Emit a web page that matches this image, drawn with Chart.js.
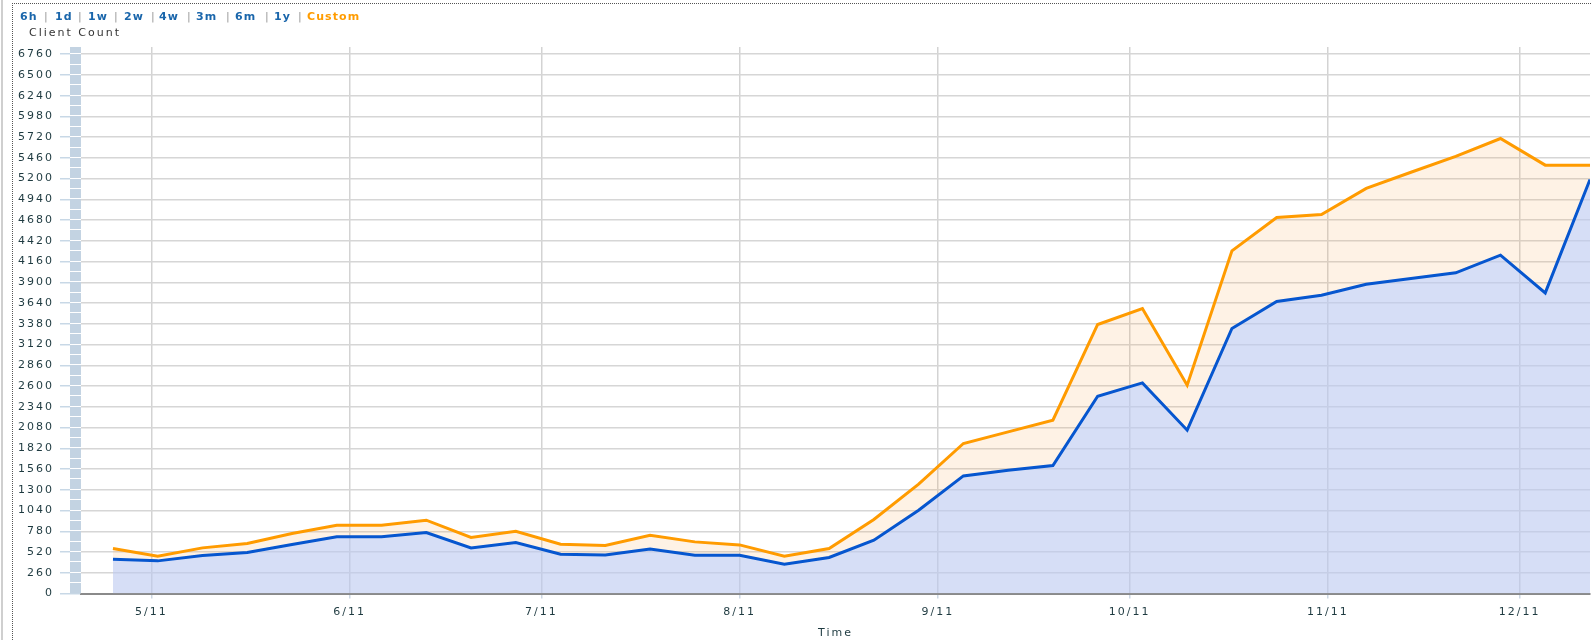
<!DOCTYPE html>
<html>
<head>
<meta charset="utf-8">
<script src="https://cdn.jsdelivr.net/npm/chart.js@4/dist/chart.umd.min.js"></script>
<style>
  body { margin: 0; background: #fff; }
  #wrap { position: relative; width: 1591px; height: 640px; overflow: hidden; }
  #frame { position: absolute; left: 12px; top: 3px; right: 0; bottom: 0;
           border-left: 1px dotted #555; border-top: 1px dotted #555; pointer-events: none; }
  #edge { position: absolute; left: 1px; top: 0; width: 2px; height: 640px; background: #cfcfcf; }
  .lnk { position: absolute; top: 10px; font: bold 11px "DejaVu Sans", sans-serif;
         letter-spacing: 1.1px; color: #1a66ab; line-height: 13px; white-space: nowrap; }
  .sep { position: absolute; top: 10px; font: 11px "DejaVu Sans", sans-serif; color: #9a9a9a; line-height: 13px; }
  #cc { position: absolute; left: 29px; top: 26px; font: 11px "DejaVu Sans", sans-serif;
        letter-spacing: 2px; color: #333; line-height: 13px; white-space: nowrap; }
  canvas { position: absolute; left: 0; top: 0; }
</style>
</head>
<body>
<div id="wrap">
  <canvas id="chart" width="1591" height="640"></canvas>
  <div id="edge"></div>
  <div id="frame"></div>
  <span class="lnk" style="left:20px">6h</span><span class="sep" style="left:44px">|</span>
  <span class="lnk" style="left:55px">1d</span><span class="sep" style="left:78px">|</span>
  <span class="lnk" style="left:88px">1w</span><span class="sep" style="left:114px">|</span>
  <span class="lnk" style="left:124px">2w</span><span class="sep" style="left:151px">|</span>
  <span class="lnk" style="left:159px">4w</span><span class="sep" style="left:187px">|</span>
  <span class="lnk" style="left:196px">3m</span><span class="sep" style="left:226px">|</span>
  <span class="lnk" style="left:235px">6m</span><span class="sep" style="left:265px">|</span>
  <span class="lnk" style="left:274px">1y</span><span class="sep" style="left:298px">|</span>
  <span class="lnk" style="left:307px;color:#ff9c00">Custom</span>
  <div id="cc">Client Count</div>
</div>
<script>
// weekly samples (2011)
const weeks = [
  "2011-04-25", "2011-05-02", "2011-05-09", "2011-05-16", "2011-05-23", "2011-05-30",
  "2011-06-06", "2011-06-13", "2011-06-20", "2011-06-27", "2011-07-04", "2011-07-11",
  "2011-07-18", "2011-07-25", "2011-08-01", "2011-08-08", "2011-08-15", "2011-08-22",
  "2011-08-29", "2011-09-05", "2011-09-12", "2011-09-19", "2011-09-26", "2011-10-03",
  "2011-10-10", "2011-10-17", "2011-10-24", "2011-10-31", "2011-11-07", "2011-11-14",
  "2011-11-21", "2011-11-28", "2011-12-05", "2011-12-12"
];
const blueCounts = [
  430, 409, 476, 514, 614, 710, 710, 764, 572, 639, 493, 484,
  559, 480, 480, 367, 451, 668, 1044, 1474, 1546, 1604, 2473, 2640,
  2047, 3322, 3660, 3739, 3877, 3948, 4019, 4241, 3768, 5190
];
const orangeCounts = [
  564, 467, 572, 627, 752, 856, 856, 919, 702, 781, 618, 602,
  731, 647, 609, 467, 564, 927, 1370, 1880, 2026, 2172, 3372, 3572,
  2611, 4295, 4713, 4751, 5077, 5280, 5480, 5703, 5369, 5369
];
const monthStarts = ["2011-05-01", "2011-06-01", "2011-07-01", "2011-08-01",
                     "2011-09-01", "2011-10-01", "2011-11-01", "2011-12-01"];
const monthLabels = ["5/11", "6/11", "7/11", "8/11", "9/11", "10/11", "11/11", "12/11"];
const yTicks = [0, 260, 520, 780, 1040, 1300, 1560, 1820, 2080, 2340, 2600, 2860, 3120,
                3380, 3640, 3900, 4160, 4420, 4680, 4940, 5200, 5460, 5720, 5980, 6240, 6500, 6760];

function toDay(s) {
  const p = s.split("-").map(Number);
  return Date.UTC(p[0], p[1] - 1, p[2]) / 86400000;
}
const xs = weeks.map(toDay);
const monthDays = monthStarts.map(toDay);

const txt = "#1e3a40";
const font = { family: "DejaVu Sans", size: 11 };

// spaced-out text like the original
const spacing = {
  id: "spacing",
  beforeDraw(chart) { chart.ctx.letterSpacing = "2px"; }
};

// the light blue strip next to the y axis
const strip = {
  id: "strip",
  beforeDatasetsDraw(chart) {
    const { ctx, chartArea } = chart;
    const y = chart.scales.y;
    const x0 = chartArea.left - 11;
    ctx.save();
    ctx.fillStyle = "#c3d3e2";
    ctx.fillRect(x0, chartArea.top, 11, chartArea.bottom - chartArea.top);
    ctx.fillStyle = "#ffffff";
    yTicks.forEach(v => {
      [v, v + 130].forEach(w => {
        const py = y.getPixelForValue(w);
        if (py > chartArea.top && py < chartArea.bottom) ctx.fillRect(x0, Math.round(py) - 1, 11, 1);
      });
    });
    ctx.restore();
  }
};

new Chart(document.getElementById("chart"), {
  type: "line",
  data: {
    datasets: [{
      label: "blue",
      data: xs.map((x, i) => ({ x: x, y: blueCounts[i] })),
      borderColor: "#0656cf",
      backgroundColor: "rgba(187, 200, 240, 0.6)",
      borderWidth: 3,
      fill: "origin",
      pointRadius: 0,
      tension: 0
    }, {
      label: "orange",
      data: xs.map((x, i) => ({ x: x, y: orangeCounts[i] })),
      borderColor: "#ff9b00",
      backgroundColor: "rgba(250, 170, 80, 0.15)",
      borderWidth: 3,
      fill: "-1",
      pointRadius: 0,
      tension: 0
    }]
  },
  options: {
    responsive: false,
    animation: false,
    layout: { padding: { top: 47, right: 1, left: 0, bottom: 0 } },
    plugins: { legend: { display: false }, tooltip: { enabled: false } },
    scales: {
      x: {
        type: "linear",
        min: toDay("2011-04-20"),
        max: toDay("2011-12-12"),
        afterBuildTicks: s => { s.ticks = monthDays.map(v => ({ value: v })); },
        afterFit: s => { s.height = 46.5; },
        grid: { color: "#d3d3d3", lineWidth: 1.5, tickLength: 5, tickColor: "#cdd8e4" },
        border: { display: true, color: "#8a8a8a", width: 2 },
        ticks: {
          autoSkip: false, maxRotation: 0, padding: 7, color: txt, font: font,
          callback: (v, i) => monthLabels[i]
        },
        title: { display: true, text: "Time", color: txt, font: font, padding: 0 }
      },
      y: {
        min: 0,
        max: 6850,
        afterBuildTicks: s => { s.ticks = yTicks.map(v => ({ value: v })); },
        afterFit: s => { s.width = 81; },
        grid: { color: "#d6d6d6", lineWidth: 1.5, tickLength: 21, tickColor: "#c8d8e6" },
        border: { display: false },
        ticks: { autoSkip: false, padding: 6, color: txt, font: font, callback: v => String(v) }
      }
    }
  },
  plugins: [spacing, strip]
});
</script>
</body>
</html>
